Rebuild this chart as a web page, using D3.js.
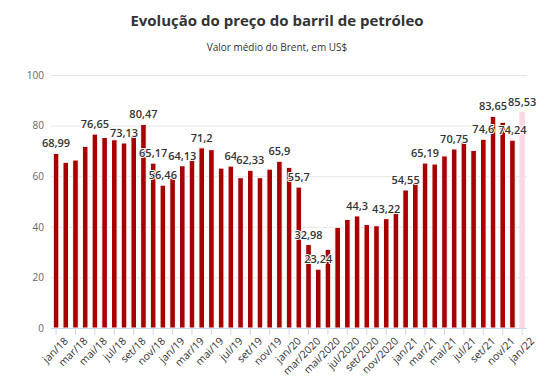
<!DOCTYPE html>
<html><head><meta charset="utf-8">
<script src="https://cdn.jsdelivr.net/npm/d3@7"></script>
<style>
body{margin:0;background:#fff;}
svg{display:block;font-family:"Open Sans",sans-serif;}
</style></head>
<body><svg id="c" width="555" height="378"></svg>
<script>
const categories = ["jan/18","fev/18","mar/18","abr/18","mai/18","jun/18","jul/18","ago/18","set/18","out/18","nov/18","dez/18",
"jan/19","fev/19","mar/19","abr/19","mai/19","jun/19","jul/19","ago/19","set/19","out/19","nov/19","dez/19",
"jan/20","fev/2020","mar/2020","abr/2020","mai/2020","jun/2020","jul/2020","ago/2020","set/2020","out/2020","nov/2020","dez/2020",
"jan/21","fev/21","mar/21","abr/21","mai/21","jun/21","jul/21","ago/21","set/21","out/21","nov/21","dez/21","jan/22"];
const values = [68.99,65.5,66.4,71.8,76.65,75.3,74.4,73.13,75.8,80.47,65.17,56.46,
59.4,64.13,66.3,71.2,70.5,63.2,64,59.4,62.33,59.4,62.8,65.9,
63.5,55.7,32.98,23.24,31.1,39.8,42.9,44.3,40.9,40.4,43.22,45.9,
54.55,57.5,65.19,64.8,68.0,70.75,73.8,70.2,74.6,83.65,81.3,74.24,85.53];
const labelledIndex = [0,4,7,9,10,11,13,15,18,20,23,25,26,27,31,34,36,38,41,44,45,47,48];
const highlightIndex = [48];
const yTicks = [0,20,40,60,80,100];
const title = "Evolução do preço do barril de petróleo";
const subtitle = "Valor médio do Brent, em US$";

const svg = d3.select("#c");
const x = d3.scaleBand().domain(categories).range([51.2, 527]).padding(0);
const y = d3.scaleLinear().domain([0,100]).range([328, 75]);

svg.append("text").attr("x",277).attr("y",26).attr("text-anchor","middle")
  .attr("font-size",15).attr("font-weight",700).attr("fill","#333").text(title);
svg.append("text").attr("x",277).attr("y",51).attr("text-anchor","middle")
  .attr("font-size",10).attr("fill","#333").text(subtitle);

// grid
svg.append("g").selectAll("line").data(yTicks.filter(d=>d>0)).join("line")
  .attr("x1",51).attr("x2",527).attr("y1",d=>y(d)+0.5).attr("y2",d=>y(d)+0.5)
  .attr("stroke","#e6e6e6");

// y axis labels
const ya = svg.append("g").attr("transform","translate(44,0)")
  .call(d3.axisLeft(y).tickValues(yTicks).tickSize(0).tickPadding(0));
ya.select(".domain").remove();
ya.selectAll("text").attr("font-size",10).attr("fill","#666").attr("font-family","Open Sans");

// bars
const bw = 5.6;
svg.append("g").selectAll("rect").data(values).join("rect")
  .attr("x",(d,i)=>x(categories[i])+x.bandwidth()/2-bw/2)
  .attr("y",d=>y(d))
  .attr("width",bw)
  .attr("height",d=>y(0)-y(d))
  .attr("fill",(d,i)=>highlightIndex.includes(i)?"#fbd8e3":"#a80000")
  .attr("stroke","#fff").attr("stroke-width",(d,i)=>highlightIndex.includes(i)?0:1);

// x axis
const xa = svg.append("g").attr("transform",`translate(0,${y(0)})`)
  .call(d3.axisBottom(x).tickValues(categories.filter((c,i)=>i%2===0)).tickSize(7).tickPadding(4));
xa.select(".domain").attr("stroke","#ccd6eb").attr("d","M51,0.5H527");
xa.selectAll(".tick line").attr("stroke","#ccd6eb");
xa.selectAll("text").attr("font-size",10.5).attr("fill","#333").attr("font-family","Open Sans")
  .attr("text-anchor","end").attr("dy",0)
  .attr("transform","translate(5,6) rotate(-45)");

// data labels
svg.append("g").selectAll("text").data(labelledIndex).join("text")
  .attr("x",i=>x(categories[i])+x.bandwidth()/2)
  .attr("y",i=>y(values[i])-6)
  .attr("text-anchor","middle")
  .attr("font-size",11).attr("font-weight",600).attr("fill","#333")
  .attr("stroke","#fff").attr("stroke-width",2).attr("paint-order","stroke").attr("stroke-linejoin","round")
  .text(i=>String(values[i]).replace(".",","));
</script></body></html>
